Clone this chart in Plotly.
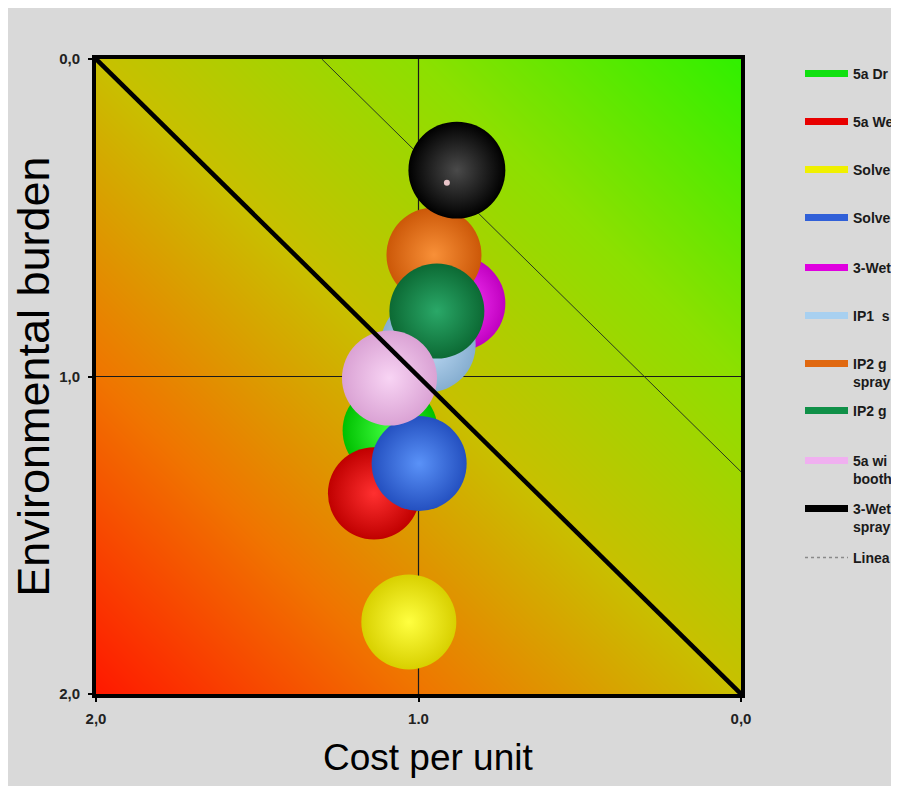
import numpy as np
import plotly.graph_objects as go

# ---------------- data ----------------
# legend labels as visible in the reference (cut at the picture's right edge)
series_names = [
    "5a Dr", "5a We", "Solve", "Solve", "3-Wet", "IP1\u00a0 s",
    "IP2 g<br>spray", "IP2 g", "5a wi<br>booth", "3-Wet<br>spray",
]
linear_name = "Linea"
cost_per_unit = [1.088, 1.138, 1.03, 0.998, 0.878, 0.97, 0.952, 0.943, 1.09, 0.881]
env_burden = [1.17, 1.368, 1.773, 1.274, 0.77, 0.90, 0.617, 0.794, 1.005, 0.350]
bubble_size = [1.0, 0.97, 1.0, 1.0, 1.0, 1.0, 1.0, 1.0, 1.0, 1.02]
extra_point_x = [0.912]
extra_point_y = [0.39]
linear_x = [1.3, 0.0]
linear_y = [0.0, 1.3]
diag_x = [2.0, 0.0]
diag_y = [0.0, 2.0]
x_tickvals = [2, 1, 0]
x_ticktext = ["2,0", "1.0", "0,0"]
y_tickvals = [0, 1, 2]
y_ticktext = ["0,0", "1,0", "2,0"]
x_title = "Cost per unit"
y_title = "Environmental burden"

# ---------------- styles ----------------
edge_colors = ["#00c000", "#c00000", "#d8d000", "#2450c0", "#c000c0",
               "#86aed0", "#cc5808", "#0c6a34", "#daa2d4", "#000000"]
center_colors = ["#40ff40", "#ff3030", "#ffff40", "#5a92f8", "#ff40ff",
                 "#c0dcf6", "#f89038", "#2aa868", "#f8d4f4", "#4a4a4a"]
legend_colors = ["#10e010", "#e80000", "#f0f000", "#3060d8", "#e000e0",
                 "#a8d0f0", "#e06810", "#109048", "#f0b0f0", "#000000"]
draw_order = [4, 5, 0, 1, 3, 6, 7, 8, 9, 2]
SIZE_PX = 95
W, H = 891, 778
OFF = 8  # page body margin
PL, PR, PT, PB = 96, 741, 59, 694  # plot area on the page
legend_rows = [73, 121, 169, 217, 267, 315, 363, 410, 460, 508, 557]

fig = go.Figure()

# background gradient (decorative)
g = np.linspace(0, 2, 41)
bgz = [[xx + yy for xx in g] for yy in g]
fig.add_trace(go.Heatmap(
    x=g, y=g, z=bgz, zmin=0, zmax=4, zsmooth="best", showscale=False,
    hoverinfo="skip",
    colorscale=[[0.0, "#30f000"], [0.25, "#8ce000"], [0.5, "#c8c000"],
                [0.75, "#f07400"], [1.0, "#ff1800"]],
))

# centre cross lines
fig.add_trace(go.Scatter(x=[1, 1, None, 0, 2], y=[0, 2, None, 1, 1], mode="lines",
                         line=dict(color="#1a1a1a", width=1.2), showlegend=False,
                         hoverinfo="skip"))
# linear trend line
fig.add_trace(go.Scatter(x=linear_x, y=linear_y, mode="lines",
                         line=dict(color="#2a3a20", width=1), showlegend=False,
                         hoverinfo="skip"))

for i in draw_order:
    fig.add_trace(go.Scatter(
        x=[cost_per_unit[i]], y=[env_burden[i]], mode="markers",
        marker=dict(size=SIZE_PX * bubble_size[i], color=edge_colors[i],
                    gradient=dict(type="radial", color=center_colors[i]),
                    line=dict(width=0), opacity=1),
        showlegend=False,
    ))
    if i == 9:
        fig.add_trace(go.Scatter(x=extra_point_x, y=extra_point_y, mode="markers",
                                 marker=dict(size=6, color="#e8c4c8", line=dict(width=0)),
                                 showlegend=False, hoverinfo="skip"))

# thick diagonal
fig.add_trace(go.Scatter(x=diag_x, y=diag_y, mode="lines",
                         line=dict(color="black", width=4.5), showlegend=False,
                         hoverinfo="skip"))

# legend entries, one legend each for exact row spacing
legend_layout = {}
for k in range(11):
    key = "legend" if k == 0 else f"legend{k + 1}"
    if k < 10:
        fig.add_trace(go.Scatter(x=[None], y=[None], mode="lines",
                                 line=dict(color=legend_colors[k], width=7),
                                 name=series_names[k], legend=key))
    else:
        fig.add_trace(go.Scatter(x=[None], y=[None], mode="lines",
                                 line=dict(color="#8a8a8a", width=1.5, dash="dot"),
                                 name=linear_name, legend=key))
    legend_layout[key] = dict(
        x=(800 - OFF) / W, y=1 - (legend_rows[k] - OFF - 15) / H,
        xref="container", yref="container", xanchor="left", yanchor="top",
        bgcolor="rgba(0,0,0,0)", borderwidth=0, valign="top", itemwidth=43,
        font=dict(family="Liberation Sans", size=14, color="#1a1a1a", weight="bold"),
    )

axis_common = dict(
    showgrid=False, zeroline=False, showline=True, mirror=True,
    linecolor="black", linewidth=4, ticks="outside", ticklen=4, tickwidth=2,
    tickcolor="black",
    tickfont=dict(family="Liberation Sans", size=15, color="#222222", weight="bold"),
)

fig.update_layout(
    width=W, height=H,
    margin=dict(l=PL - OFF, r=W - (PR - OFF), t=PT - OFF, b=H - (PB - OFF), autoexpand=False),
    paper_bgcolor="#d9d9d9", plot_bgcolor="#d9d9d9",
    xaxis=dict(range=[2, 0], tickvals=x_tickvals, ticktext=x_ticktext, ticklabelstandoff=4,
               **axis_common),
    yaxis=dict(range=[2, 0], tickvals=y_tickvals, ticktext=y_ticktext, ticklabelstandoff=5,
               title=dict(text=y_title, standoff=8,
                          font=dict(family="Liberation Sans", size=45, color="black")),
               **axis_common),
    annotations=[dict(text=x_title, xref="paper", yref="paper",
                      x=(428 - PL) / (PR - PL), y=(PB - 757) / (PB - PT),
                      xanchor="center", yanchor="middle", showarrow=False,
                      font=dict(family="Liberation Sans", size=37, color="black"))],
    **legend_layout,
)

fig.write_html("out.html",
               post_script="document.documentElement.style.overflow='hidden';"
                           "document.body.style.overflow='hidden';")
